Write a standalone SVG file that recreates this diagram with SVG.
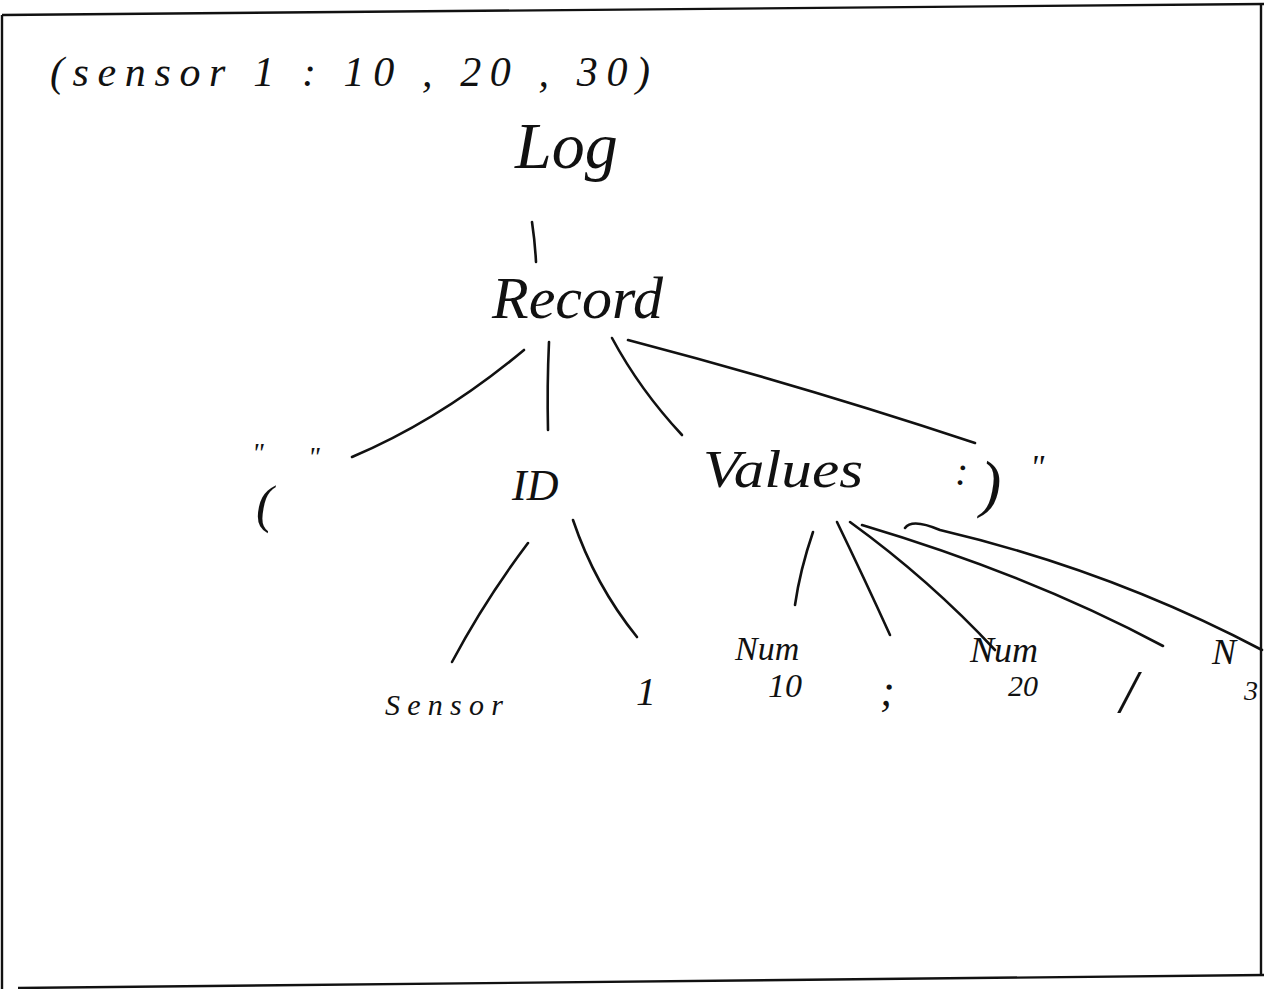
<svg xmlns="http://www.w3.org/2000/svg" width="1264" height="989" viewBox="0 0 1264 989">
  <style>
    .hand { font-family: "Liberation Serif", "DejaVu Serif", serif; font-style: italic; fill: #111; }
    .edge { fill: none; stroke: #111; stroke-width: 2.6; stroke-linecap: round; stroke-linejoin: round; }
    .frame { fill: none; stroke: #111; stroke-width: 2.4; }
  </style>
  <rect width="1264" height="989" fill="#ffffff"/>

  <!-- sheet border -->
  <g id="frame">
    <path class="frame" d="M2,15 L1264,4"/>
    <path class="frame" d="M2,15 L2,989"/>
    <path class="frame" d="M1261,4 L1261,976"/>
    <path class="frame" d="M18,988 L1264,975" stroke-width="3"/>
  </g>

  <!-- input sentence -->
  <g id="input">
    <text class="hand" x="50" y="86" font-size="42" textLength="600" lengthAdjust="spacing">(sensor 1 : 10 ,  20 ,  30)</text>
  </g>

  <!-- tree edges -->
  <g id="connectors">
    <path class="edge" d="M532,222 Q535,242 536,262"/>
    <path class="edge" d="M524,350 Q440,420 352,457"/>
    <path class="edge" d="M549,342 Q547,385 548,430"/>
    <path class="edge" d="M612,338 Q640,390 682,435"/>
    <path class="edge" d="M628,340 Q800,385 975,443"/>
    <path class="edge" d="M528,543 Q485,600 452,662"/>
    <path class="edge" d="M573,520 Q595,585 637,637"/>
    <path class="edge" d="M813,532 Q800,570 795,605"/>
    <path class="edge" d="M837,522 Q865,580 890,635"/>
    <path class="edge" d="M850,522 Q930,580 995,650"/>
    <path class="edge" d="M862,525 Q1030,575 1163,646"/>
    <path class="edge" d="M905,528 Q912,518 940,530 Q1110,570 1262,650"/>
  </g>

  <!-- tree nodes -->
  <g id="node-log">
    <text class="hand" x="515" y="168" font-size="66">Log</text>
  </g>
  <g id="node-record">
    <text class="hand" x="492" y="318" font-size="60">Record</text>
  </g>
  <g id="node-lparen">
    <text class="hand" x="252" y="462" font-size="28">"</text>
    <text class="hand" x="256" y="522" font-size="52">(</text>
    <text class="hand" x="308" y="466" font-size="28">"</text>
  </g>
  <g id="node-id">
    <text class="hand" x="512" y="500" font-size="44">ID</text>
  </g>
  <g id="node-values">
    <text class="hand" x="703" y="487" font-size="52" textLength="160" lengthAdjust="spacingAndGlyphs">Values</text>
  </g>
  <g id="node-rparen">
    <text class="hand" x="955" y="485" font-size="40">:</text>
    <text class="hand" x="980" y="505" font-size="64">)</text>
    <text class="hand" x="1030" y="478" font-size="34">"</text>
  </g>
  <g id="node-sensor">
    <text class="hand" x="385" y="715" font-size="30" textLength="118" lengthAdjust="spacing">Sensor</text>
  </g>
  <g id="node-one">
    <text class="hand" x="636" y="705" font-size="40">1</text>
  </g>
  <g id="node-num10">
    <text class="hand" x="735" y="660" font-size="34">Num</text>
    <text class="hand" x="768" y="697" font-size="34">10</text>
  </g>
  <g id="node-comma1">
    <text class="hand" x="880" y="705" font-size="44">;</text>
  </g>
  <g id="node-num20">
    <text class="hand" x="970" y="662" font-size="36">Num</text>
    <text class="hand" x="1008" y="696" font-size="30">20</text>
  </g>
  <g id="node-comma2">
    <text class="hand" x="1120" y="712" font-size="62">/</text>
  </g>
  <g id="node-num30">
    <text class="hand" x="1212" y="664" font-size="36">N</text>
    <text class="hand" x="1244" y="700" font-size="28">3</text>
  </g>
</svg>
